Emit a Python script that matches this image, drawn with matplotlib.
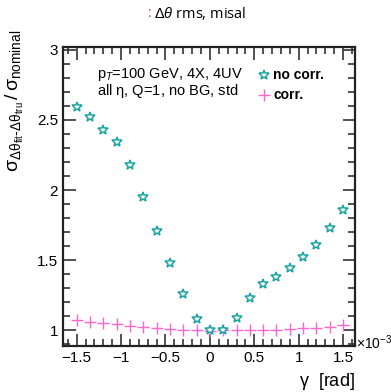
import numpy as np
import matplotlib
matplotlib.use('Agg')
import matplotlib.pyplot as plt
from matplotlib.ticker import MultipleLocator

plt.rcParams['font.family'] = ['Liberation Sans', 'DejaVu Sans']
plt.rcParams['mathtext.fontset'] = 'custom'
plt.rcParams['mathtext.rm'] = 'Liberation Sans'
plt.rcParams['mathtext.it'] = 'Liberation Sans:italic'
plt.rcParams['mathtext.bf'] = 'Liberation Sans:bold'

# gamma in units of 1e-3 rad
gamma = [-1.5, -1.35, -1.2, -1.05, -0.9, -0.75, -0.6, -0.45, -0.3, -0.15, 0.0,
         0.15, 0.3, 0.45, 0.6, 0.75, 0.9, 1.05, 1.2, 1.35, 1.5]
no_corr = [2.59, 2.52, 2.43, 2.34, 2.18, 1.95, 1.71, 1.48, 1.26, 1.08, 1.0,
           1.005, 1.09, 1.23, 1.33, 1.38, 1.445, 1.52, 1.61, 1.73, 1.86]
corr = [1.07, 1.06, 1.055, 1.043, 1.03, 1.021, 1.014, 1.007, 1.005, 1.005, 0.998,
        1.005, 1.0, 1.0, 1.0, 1.002, 1.007, 1.014, 1.019, 1.024, 1.035]

teal = '#1aa3a3'
pink = '#ff66cc'

fig = plt.figure(figsize=(3.91, 3.92), dpi=100)
ax = fig.add_axes([0.161, 0.117, 0.747, 0.763])

ax.plot(gamma, corr, linestyle='none', marker='+', color=pink, markersize=8, mew=1.0)
ax.plot(gamma, no_corr, linestyle='none', marker='*', markerfacecolor='white',
        markeredgecolor=teal, markersize=7.5, mew=1.1)

ax.set_xlim(-1.655, 1.635)
ax.set_ylim(0.887, 3.02)
ax.xaxis.set_minor_locator(MultipleLocator(0.1))
ax.yaxis.set_minor_locator(MultipleLocator(0.1))
ax.set_xticks([-1.5, -1, -0.5, 0, 0.5, 1, 1.5])
ax.set_xticklabels(['\u22121.5', '\u22121', '\u22120.5', '0', '0.5', '1', '1.5'])
ax.set_yticks([1, 1.5, 2, 2.5, 3])
ax.set_yticklabels(['1', '1.5', '2', '2.5', '3'])
ax.tick_params(which='both', direction='in', top=True, right=True, labelsize=11,
               width=1.2, color='#333333')
ax.tick_params(which='major', length=9)
ax.tick_params(which='minor', length=5)
for s in ax.spines.values():
    s.set_linewidth(1.6)
    s.set_color('#222222')

ax.set_ylabel(r'$\mathrm{\sigma}_{\mathrm{\Delta\theta_{fit}\text{-}\Delta\theta_{tru}}}\,/\,\mathrm{\sigma_{nominal}}$',
              fontsize=14)
ax.yaxis.set_label_coords(-0.125, 0.82)
fig.text(0.908, 0.0, r'$\mathrm{\gamma}$  [rad]', fontsize=13, ha='right', va='bottom')
fig.text(0.91, 0.125, r'$\times10^{-3}$', fontsize=10, ha='left', va='center')

ax.text(0.117, 0.895, r'p$_{T}$=100 GeV, 4X, 4UV', transform=ax.transAxes, fontsize=10.5)
ax.text(0.117, 0.84, r'all $\mathrm{\eta}$, Q=1, no BG, std', transform=ax.transAxes, fontsize=10.5)

ax.plot([0.687], [0.905], transform=ax.transAxes, marker='*', markerfacecolor='white',
        markeredgecolor=teal, markersize=7.5, mew=1.1, linestyle='none')
ax.text(0.72, 0.905, 'no corr.', transform=ax.transAxes, fontsize=10,
        fontweight='bold', va='center')
ax.plot([0.687], [0.84], transform=ax.transAxes, marker='+', color=pink,
        markersize=8, mew=1.0, linestyle='none')
ax.text(0.72, 0.84, 'corr.', transform=ax.transAxes, fontsize=10,
        fontweight='bold', va='center')

fig.text(0.383, 0.965, ':', color='#cc4444', fontsize=10, ha='center', va='center',
         family='Open Sans')
fig.text(0.395, 0.965, r'$\Delta\theta$ rms, misal', fontsize=10.5, ha='left',
         va='center', family='Open Sans')

fig.savefig('out.png', dpi=100)
